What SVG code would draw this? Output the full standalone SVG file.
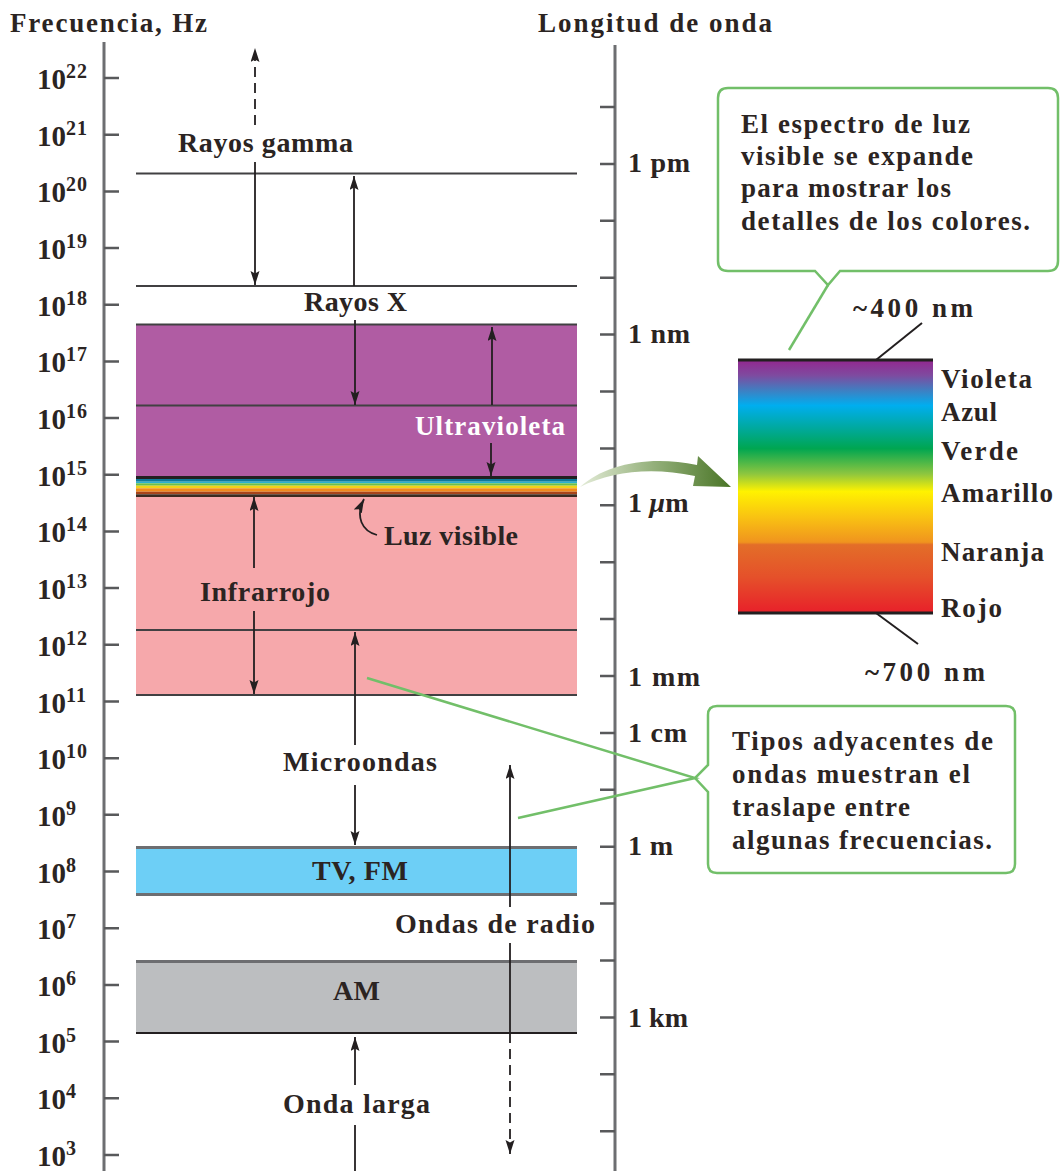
<svg xmlns="http://www.w3.org/2000/svg" width="1060" height="1171" viewBox="0 0 1060 1171">
<style>
text{font-family:"Liberation Serif","Times New Roman",serif;fill:#2b2422;font-weight:bold;font-size:28px}
.h{font-size:27px}
.c{font-size:27px}
.f{font-size:29px}
.sup{font-size:20px;letter-spacing:1px}
.wl{font-size:28px}
.uv{fill:#ffffff;font-size:27px}
.ax{stroke:#6d6e71;stroke-width:3;fill:none}
.tk{stroke:#58595b;stroke-width:2.5}
.bl{stroke:#414042;stroke-width:2;fill:none}
.ar{stroke:#231f20;stroke-width:1.8;fill:none;marker-end:url(#ah)}
.co{fill:#ffffff;stroke:#72bf69;stroke-width:2.5}
.gl{stroke:#72bf69;stroke-width:2.5;fill:none}
</style>
<defs>
<marker id="ah" markerUnits="userSpaceOnUse" markerWidth="15" markerHeight="10" refX="14" refY="4.5" orient="auto">
<path d="M0,0 L14,4.5 L0,9 L2.5,4.5 Z" fill="#231f20"/>
</marker>
<linearGradient id="spec" x1="0" y1="0" x2="0" y2="1">
<stop offset="0" stop-color="#93278f"/>
<stop offset="0.06" stop-color="#7f4a9f"/>
<stop offset="0.12" stop-color="#3f7fc2"/>
<stop offset="0.18" stop-color="#00aeef"/>
<stop offset="0.27" stop-color="#00a99d"/>
<stop offset="0.35" stop-color="#00a651"/>
<stop offset="0.45" stop-color="#8dc63f"/>
<stop offset="0.52" stop-color="#fff200"/>
<stop offset="0.62" stop-color="#f9c312"/>
<stop offset="0.72" stop-color="#f0941e"/>
<stop offset="0.73" stop-color="#e36e28"/>
<stop offset="0.86" stop-color="#e5502a"/>
<stop offset="1" stop-color="#e8202a"/>
</linearGradient>
<linearGradient id="garr" x1="580" y1="0" x2="729" y2="0" gradientUnits="userSpaceOnUse">
<stop offset="0" stop-color="#e4ecd8"/>
<stop offset="0.45" stop-color="#9ab582"/>
<stop offset="1" stop-color="#4b7628"/>
</linearGradient>
</defs>

<g id="titles">
<text class="h" x="10" y="32" textLength="197" lengthAdjust="spacing">Frecuencia, Hz</text>
<text class="h" x="538" y="32" textLength="234" lengthAdjust="spacing">Longitud de onda</text>
</g>

<g id="bands">
<line class="bl" x1="136" y1="173.5" x2="577" y2="173.5"/>
<line class="bl" x1="136" y1="286" x2="577" y2="286"/>
<rect x="136" y="324" width="441" height="153" fill="#b05ca3"/>
<line class="bl" x1="136" y1="324.5" x2="577" y2="324.5"/>
<line class="bl" x1="136" y1="405.5" x2="577" y2="405.5"/>
<rect x="136" y="476" width="441" height="3" fill="#231f20"/>
<rect x="136" y="479" width="441" height="2.7" fill="#0e7a9a"/>
<rect x="136" y="481.7" width="441" height="1.6" fill="#2ab0d0"/>
<rect x="136" y="483.3" width="441" height="2.4" fill="#6cbf4a"/>
<rect x="136" y="485.7" width="441" height="2.6" fill="#f2d218"/>
<rect x="136" y="488.3" width="441" height="3.4" fill="#f08a1c"/>
<rect x="136" y="491.7" width="441" height="2.6" fill="#a8441a"/>
<rect x="136" y="494.3" width="441" height="2.7" fill="#3a2a20"/>
<rect x="136" y="497" width="441" height="198" fill="#f6a8ab"/>
<line class="bl" x1="136" y1="630" x2="577" y2="630"/>
<line class="bl" x1="136" y1="695" x2="577" y2="695"/>
<rect x="136" y="846" width="441" height="50" fill="#6dcff6"/>
<line x1="136" y1="847.5" x2="577" y2="847.5" stroke="#6d6e71" stroke-width="3"/>
<line x1="136" y1="894.5" x2="577" y2="894.5" stroke="#6d6e71" stroke-width="3"/>
<rect x="136" y="960" width="441" height="73" fill="#bcbec0"/>
<line x1="136" y1="961.5" x2="577" y2="961.5" stroke="#6d6e71" stroke-width="3"/>
<line x1="136" y1="1033" x2="577" y2="1033" stroke="#231f20" stroke-width="2"/>
</g>

<g id="freq-axis">
<line class="ax" x1="104" y1="42" x2="104" y2="1171"/>
<path class="tk" d="M104 78H119M104 134.7H119M104 191.4H119M104 248H119M104 304.7H119M104 361.4H119M104 418.1H119M104 474.8H119M104 531.4H119M104 588.1H119M104 644.8H119M104 701.5H119M104 758.2H119M104 814.8H119M104 871.5H119M104 928.2H119M104 984.9H119M104 1041.6H119M104 1098.2H119M104 1154.9H119"/>
<text class="f" x="37" y="89">10<tspan class="sup" x="66" y="78">22</tspan></text>
<text class="f" x="37" y="145.7">10<tspan class="sup" x="66" y="134.7">21</tspan></text>
<text class="f" x="37" y="202.4">10<tspan class="sup" x="66" y="191.4">20</tspan></text>
<text class="f" x="37" y="259">10<tspan class="sup" x="66" y="248">19</tspan></text>
<text class="f" x="37" y="315.7">10<tspan class="sup" x="66" y="304.7">18</tspan></text>
<text class="f" x="37" y="372.4">10<tspan class="sup" x="66" y="361.4">17</tspan></text>
<text class="f" x="37" y="429.1">10<tspan class="sup" x="66" y="418.1">16</tspan></text>
<text class="f" x="37" y="485.8">10<tspan class="sup" x="66" y="474.8">15</tspan></text>
<text class="f" x="37" y="542.4">10<tspan class="sup" x="66" y="531.4">14</tspan></text>
<text class="f" x="37" y="599.1">10<tspan class="sup" x="66" y="588.1">13</tspan></text>
<text class="f" x="37" y="655.8">10<tspan class="sup" x="66" y="644.8">12</tspan></text>
<text class="f" x="37" y="712.5">10<tspan class="sup" x="66" y="701.5">11</tspan></text>
<text class="f" x="37" y="769.2">10<tspan class="sup" x="66" y="758.2">10</tspan></text>
<text class="f" x="37" y="825.8">10<tspan class="sup" x="66" y="814.8">9</tspan></text>
<text class="f" x="37" y="882.5">10<tspan class="sup" x="66" y="871.5">8</tspan></text>
<text class="f" x="37" y="939.2">10<tspan class="sup" x="66" y="928.2">7</tspan></text>
<text class="f" x="37" y="995.9">10<tspan class="sup" x="66" y="984.9">6</tspan></text>
<text class="f" x="37" y="1052.6">10<tspan class="sup" x="66" y="1041.6">5</tspan></text>
<text class="f" x="37" y="1109.2">10<tspan class="sup" x="66" y="1098.2">4</tspan></text>
<text class="f" x="37" y="1165.9">10<tspan class="sup" x="66" y="1154.9">3</tspan></text>
</g>

<g id="wave-axis">
<line class="ax" x1="615" y1="45" x2="615" y2="1171"/>
<path class="tk" d="M600 107H615M600 163.9H615M600 220.8H615M600 277.7H615M600 334.6H615M600 391.5H615M600 448.4H615M600 505.3H615M600 562.2H615M600 619.1H615M600 676H615M600 732.9H615M600 789.8H615M600 846.7H615M600 903.6H615M600 960.5H615M600 1017.4H615M600 1074.3H615M600 1131.2H615"/>
<text class="wl" x="628" y="172" textLength="62" lengthAdjust="spacing">1 pm</text>
<text class="wl" x="628" y="343" textLength="62" lengthAdjust="spacing">1 nm</text>
<text class="wl" x="628" y="512">1 <tspan font-style="italic">µ</tspan>m</text>
<text class="wl" x="628" y="686" textLength="72" lengthAdjust="spacing">1 mm</text>
<text class="wl" x="628" y="742" textLength="59" lengthAdjust="spacing">1 cm</text>
<text class="wl" x="628" y="855" textLength="45" lengthAdjust="spacing">1 m</text>
<text class="wl" x="628" y="1027" textLength="60" lengthAdjust="spacing">1 km</text>
</g>

<g id="connectors">
<line class="ar" x1="255" y1="125" x2="255" y2="48" stroke-dasharray="10 6"/>
<line class="ar" x1="255" y1="162" x2="255" y2="285"/>
<line class="ar" x1="354" y1="286" x2="354" y2="176"/>
<line class="ar" x1="355" y1="320" x2="355" y2="405"/>
<line class="ar" x1="492" y1="405" x2="492" y2="327"/>
<line class="ar" x1="491" y1="443" x2="491" y2="476"/>
<line class="ar" x1="254" y1="568" x2="254" y2="497"/>
<line class="ar" x1="254" y1="611" x2="254" y2="694"/>
<line class="ar" x1="355" y1="745" x2="355" y2="632"/>
<line class="ar" x1="355" y1="785" x2="355" y2="845"/>
<line class="ar" x1="510" y1="907" x2="510" y2="765"/>
<line x1="510" y1="943" x2="510" y2="1033" stroke="#231f20" stroke-width="1.8"/>
<line class="ar" x1="510" y1="1033" x2="510" y2="1154" stroke-dasharray="10 6"/>
<line class="ar" x1="355" y1="1085" x2="355" y2="1037"/>
<line x1="355" y1="1125" x2="355" y2="1171" stroke="#231f20" stroke-width="1.8"/>
<path class="ar" d="M377 535 C362 531 355 517 364 499" stroke-width="2.2"/>
<path d="M580 487 C605 464 650 455 697 465 L698 456 L731 487 L693 486 L695 476 C652 467 612 471 580 487 Z" fill="url(#garr)"/>
</g>

<g id="band-labels">
<text x="178" y="152" textLength="175" lengthAdjust="spacing">Rayos gamma</text>
<text x="304" y="311" textLength="103" lengthAdjust="spacing">Rayos X</text>
<text class="uv" x="415" y="435" textLength="150" lengthAdjust="spacing">Ultravioleta</text>
<text x="384" y="545" textLength="134" lengthAdjust="spacing">Luz visible</text>
<text x="200" y="601" textLength="130" lengthAdjust="spacing">Infrarrojo</text>
<text x="283" y="771" textLength="154" lengthAdjust="spacing">Microondas</text>
<text x="312" y="880" textLength="96" lengthAdjust="spacing">TV, FM</text>
<text x="395" y="933" textLength="200" lengthAdjust="spacing">Ondas de radio</text>
<text x="333" y="1000" textLength="47" lengthAdjust="spacing">AM</text>
<text x="283" y="1113" textLength="147" lengthAdjust="spacing">Onda larga</text>
</g>

<g id="spectrum">
<rect x="738" y="360" width="195" height="253" fill="url(#spec)"/>
<line x1="738" y1="360" x2="933" y2="360" stroke="#231f20" stroke-width="3"/>
<line x1="738" y1="613" x2="933" y2="613" stroke="#231f20" stroke-width="3"/>
<line x1="876" y1="360" x2="922" y2="323" stroke="#231f20" stroke-width="2"/>
<line x1="876" y1="613" x2="918" y2="644" stroke="#231f20" stroke-width="2"/>
<text class="c" x="853" y="317" textLength="120" lengthAdjust="spacing">~400 nm</text>
<text class="c" x="865" y="681" textLength="120" lengthAdjust="spacing">~700 nm</text>
<text class="c" x="941" y="388" textLength="91" lengthAdjust="spacing">Violeta</text>
<text class="c" x="941" y="421" textLength="56" lengthAdjust="spacing">Azul</text>
<text class="c" x="941" y="460" textLength="77" lengthAdjust="spacing">Verde</text>
<text class="c" x="941" y="502" textLength="112" lengthAdjust="spacing">Amarillo</text>
<text class="c" x="941" y="561" textLength="103" lengthAdjust="spacing">Naranja</text>
<text class="c" x="941" y="617" textLength="61" lengthAdjust="spacing">Rojo</text>
</g>

<g id="callout-visible">
<path class="co" d="M728 88 H1048 Q1058 88 1058 98 V261 Q1058 271 1048 271 H840 L828 285 L815 271 H728 Q718 271 718 261 V98 Q718 88 728 88 Z"/>
<line class="gl" x1="828" y1="285" x2="789" y2="350"/>
<text class="c" x="741" y="133" textLength="229" lengthAdjust="spacing">El espectro de luz</text>
<text class="c" x="741" y="165" textLength="232" lengthAdjust="spacing">visible se expande</text>
<text class="c" x="741" y="197" textLength="210" lengthAdjust="spacing">para mostrar los</text>
<text class="c" x="741" y="230" textLength="289" lengthAdjust="spacing">detalles de los colores.</text>
</g>

<g id="callout-overlap">
<path class="co" d="M717 706 H1006 Q1015 706 1015 715 V864 Q1015 873 1006 873 H717 Q708 873 708 864 V792 L695 778 L708 765 V715 Q708 706 717 706 Z"/>
<polyline class="gl" points="367,678 695,778 518,818"/>
<text class="c" x="732" y="750" textLength="261" lengthAdjust="spacing">Tipos adyacentes de</text>
<text class="c" x="732" y="783" textLength="238" lengthAdjust="spacing">ondas muestran el</text>
<text class="c" x="732" y="816" textLength="178" lengthAdjust="spacing">traslape entre</text>
<text class="c" x="732" y="849" textLength="260" lengthAdjust="spacing">algunas frecuencias.</text>
</g>
</svg>
